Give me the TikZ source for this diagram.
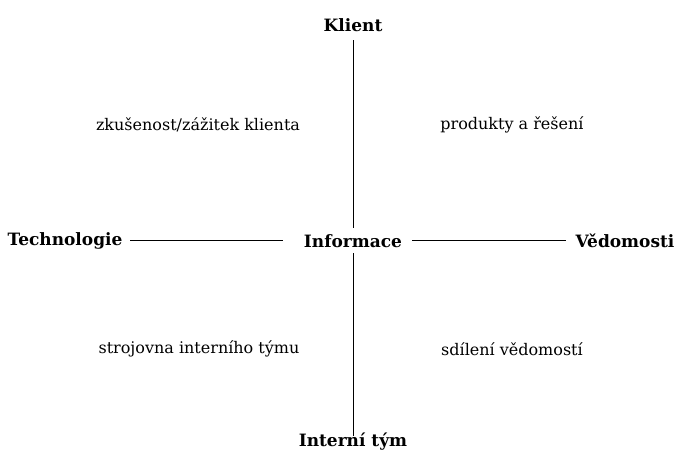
\documentclass[tikz,border=0pt]{standalone}
\usepackage{fontspec}
\setmainfont{DejaVu Serif}
\begin{document}
\begin{tikzpicture}[x=1pt,y=-1pt,
  axis/.style={font=\fontsize{17}{20}\selectfont\bfseries, inner sep=2pt},
  quad/.style={font=\fontsize{16}{19}\selectfont, inner sep=2pt},
  line/.style={draw=black, line width=0.8pt}]
\useasboundingbox (0,0) rectangle (680,456);
\node[axis] (k) at (353,25) {Klient};
\node[axis] (t) at (65,241) {Technologie};
\node[axis] (i) at (353,241) {Informace};
\node[axis] (v) at (625,241) {Vědomosti};
\node[axis] (n) at (353,442) {Interní tým};
\node[quad] (q1) at (198,125) {zkušenost/zážitek klienta};
\node[quad] (q2) at (512,125) {produkty a řešení};
\node[quad] (q3) at (199,349) {strojovna interního týmu};
\node[quad] (q4) at (512,349) {sdílení vědomostí};
\coordinate (kb) at (353,40);
\coordinate (it) at (353,228);
\coordinate (ib) at (353,253);
\coordinate (nt) at (353,436);
\coordinate (tr) at (130,240);
\coordinate (il) at (283,240);
\coordinate (ir) at (412,240);
\coordinate (vl) at (566,240);
\draw[line] (kb) -- (it);
\draw[line] (ib) -- (nt);
\draw[line] (tr) -- (il);
\draw[line] (ir) -- (vl);
\end{tikzpicture}
\end{document}
